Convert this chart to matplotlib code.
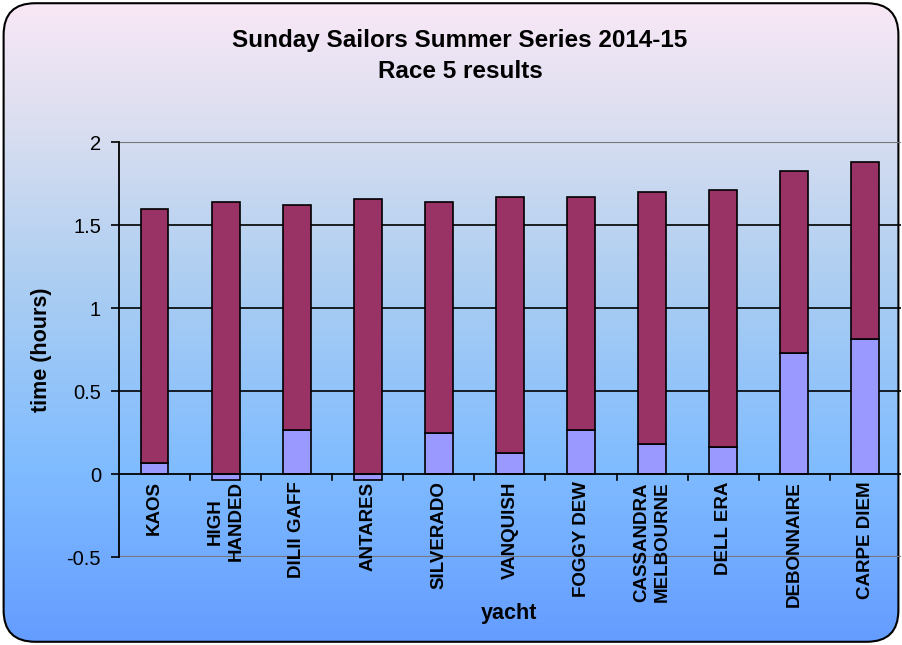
import numpy as np
import matplotlib
matplotlib.use("Agg")
import matplotlib.pyplot as plt
from matplotlib.patches import FancyBboxPatch

plt.rcParams['font.family'] = ['Liberation Sans', 'DejaVu Sans']

# Data
yachts = ['KAOS', 'HIGH\nHANDED', 'DILII GAFF', 'ANTARES', 'SILVERADO', 'VANQUISH',
          'FOGGY DEW', 'CASSANDRA\nMELBOURNE', 'DELL ERA', 'DEBONNAIRE', 'CARPE DIEM']
start_time = [0.065, -0.035, 0.267, -0.035, 0.249, 0.128, 0.265, 0.183, 0.165, 0.731, 0.811]
finish_time = [1.595, 1.64, 1.622, 1.658, 1.64, 1.667, 1.667, 1.697, 1.713, 1.825, 1.881]
yticks = [-0.5, 0, 0.5, 1, 1.5, 2]

start = np.array(start_time)
finish = np.array(finish_time)
# positive parts stack on top of the lower series, negatives hang from 0
base = np.clip(start, 0, None)
upper = finish - base

fig = plt.figure(figsize=(9.02, 6.45), dpi=100)
fig.patch.set_facecolor('white')

# background gradient inside rounded frame
bg = fig.add_axes([0, 0, 1, 1])
bg.set_xlim(0, 1)
bg.set_ylim(0, 1)
bg.axis('off')
stops = np.array([0.0, 0.2, 0.45, 0.72, 1.0])
cols = np.array([[250, 232, 246], [217, 222, 240], [170, 205, 242],
                 [128, 188, 255], [100, 156, 255]]) / 255.0
t = np.linspace(0, 1, 400)
grad = np.stack([np.interp(t, stops, cols[:, i]) for i in range(3)], axis=1)
img = bg.imshow(grad[:, None, :], extent=[0, 1, 0, 1], aspect='auto', origin='upper')
frame = FancyBboxPatch((0.004, 0.005), 0.992, 0.99,
                       boxstyle='round,pad=0,rounding_size=0.035',
                       transform=bg.transAxes, facecolor='none',
                       edgecolor='black', linewidth=1.5,
                       mutation_aspect=902 / 645)
bg.add_patch(frame)
img.set_clip_path(frame)

ax = fig.add_axes([0.132, 0.1364, 0.8667, 0.6434])
ax.patch.set_alpha(0)
x = np.arange(len(yachts))
w = 0.39
ax.bar(x, start, w, color='#9999FF', edgecolor='black', linewidth=1.2, zorder=3)
ax.bar(x, upper, w, bottom=base, color='#993366', edgecolor='black', linewidth=1.2, zorder=3)

ax.set_xlim(-0.5, len(yachts) - 0.5)
ax.set_ylim(-0.5, 2)
ax.set_yticks(yticks)
ax.set_yticklabels(['-0.5', '0', '0.5', '1', '1.5', '2'], fontsize=14.5)
for v in [0.5, 1, 1.5]:
    ax.axhline(v, color='black', linewidth=1.2, zorder=1)
for v in [2, -0.5]:
    ax.axhline(v, color='#777777', linewidth=1.5, zorder=1)
ax.axhline(0, color='black', linewidth=1.3, zorder=4)

for s in ['top', 'right', 'bottom']:
    ax.spines[s].set_visible(False)
ax.spines['left'].set_linewidth(1.3)
ax.tick_params(axis='y', length=6, width=1.2, pad=7)
ax.tick_params(axis='x', bottom=False, labelbottom=False)

# category boundary ticks on the zero line
for b in np.arange(0.5, len(yachts) - 0.5, 1):
    ax.plot([b, b], [0, -0.035], color='black', linewidth=1.2, clip_on=False, zorder=4)
for xi, name in zip(x, yachts):
    ax.text(xi, -0.045, name, rotation=90, ha='center', va='top',
            multialignment='center', fontsize=13.5, fontweight='bold',
            linespacing=1.25, zorder=5)

fig.text(509 / 902, 1 - 614 / 645, 'yacht', ha='center', va='center',
         fontsize=15.5, fontweight='bold')
fig.text(42 / 902, 1 - 350 / 645, 'time (hours)', rotation=90, ha='center',
         va='center', fontsize=15.5, fontweight='bold')

fig.text(460 / 902, 1 - 40 / 645, 'Sunday Sailors Summer Series 2014-15',
         ha='center', va='center', fontsize=17.5, fontweight='bold')
fig.text(460 / 902, 1 - 72 / 645, 'Race 5 results',
         ha='center', va='center', fontsize=17.5, fontweight='bold')

fig.savefig('out.png', dpi=100)
